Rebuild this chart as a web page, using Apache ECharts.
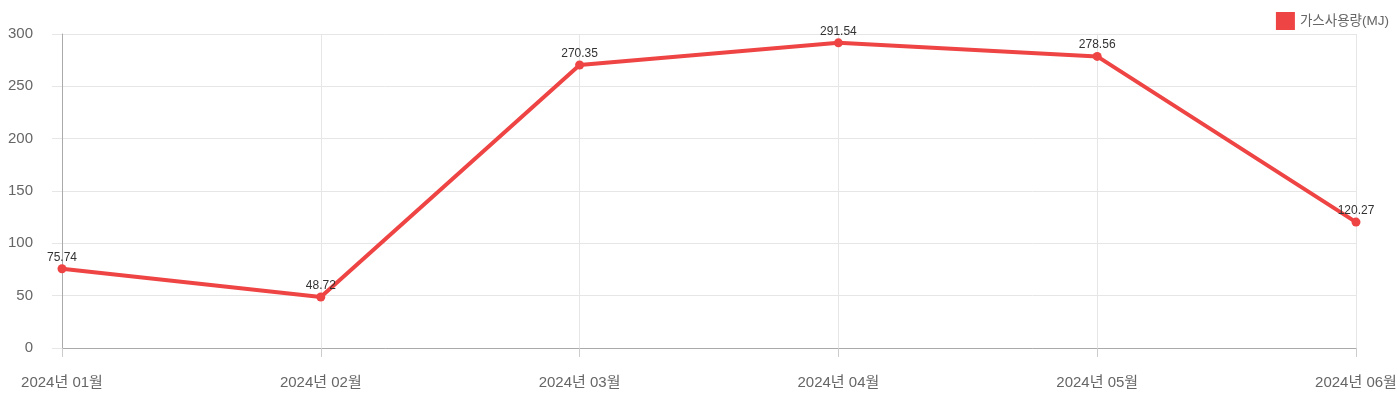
<!DOCTYPE html>
<html>
<head>
<meta charset="utf-8">
<script src="https://cdn.jsdelivr.net/npm/echarts@6/dist/echarts.min.js"></script>
<style>
html,body{margin:0;padding:0;background:#fff;}
#chart{width:1400px;height:400px;}
</style>
</head>
<body>
<div id="chart"></div>
<script>
const categories = ['2024년 01월','2024년 02월','2024년 03월','2024년 04월','2024년 05월','2024년 06월'];
const gasValues = [75.74, 48.72, 270.35, 291.54, 278.56, 120.27];
const seriesName = '가스사용량(MJ)';
const yTicks = [0, 50, 100, 150, 200, 250, 300];

const FONT = "'Liberation Sans', 'Noto Sans CJK KR', sans-serif";
const chart = echarts.init(document.getElementById('chart'), null, {renderer:'canvas'});
chart.setOption({
  animation: false,
  textStyle: {fontFamily: FONT},
  legend: {
    right: 6, top: 7,
    icon: 'rect', itemWidth: 19, itemHeight: 18, itemGap: 5,
    textStyle: {color: '#666', fontSize: 13.5, fontFamily: FONT},
    data: [seriesName]
  },
  grid: {left: 62, right: 44, top: 34, bottom: 52, containLabel: false},
  xAxis: {
    type: 'category',
    boundaryGap: false,
    data: categories,
    axisLine: {lineStyle: {color: '#aaa', width: 1}},
    axisTick: {show: true, length: 9, lineStyle: {color: '#ccc'}},
    splitLine: {show: true, lineStyle: {color: '#e6e6e6', width: 1}},
    axisLabel: {color: '#666', fontSize: 15, margin: 27, fontFamily: FONT}
  },
  yAxis: {
    type: 'value',
    min: yTicks[0], max: yTicks[yTicks.length-1], interval: 50,
    axisLine: {show: true, lineStyle: {color: '#aaa', width: 1}},
    axisTick: {show: true, length: 10, lineStyle: {color: '#e6e6e6'}},
    splitLine: {show: true, lineStyle: {color: '#e6e6e6', width: 1}},
    axisLabel: {color: '#666', fontSize: 15, margin: 29, fontFamily: FONT}
  },
  series: [{
    name: seriesName,
    type: 'line',
    data: gasValues,
    color: '#EF4444',
    lineStyle: {color: '#EF4444', width: 4},
    itemStyle: {color: '#EF4444'},
    symbol: 'circle',
    symbolSize: 9,
    label: {show: true, position: 'top', distance: 1, color: '#333', fontSize: 12, fontFamily: FONT}
  }]
});
</script>
</body>
</html>
